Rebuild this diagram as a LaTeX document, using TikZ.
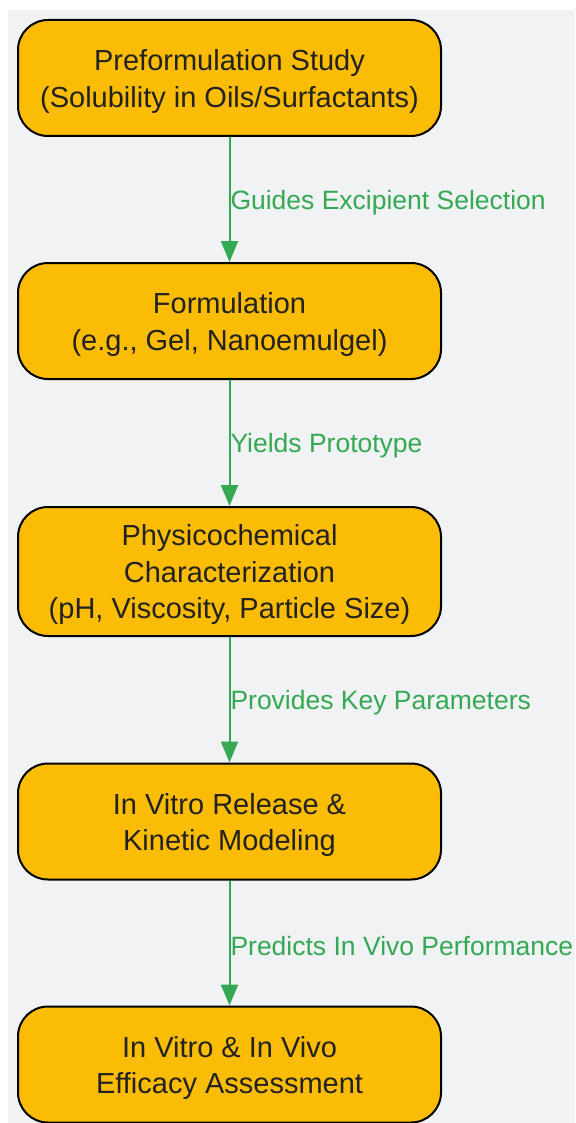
\documentclass[tikz,border=0pt]{standalone}
\usepackage{fontspec}
\setmainfont{Liberation Sans}
\usetikzlibrary{arrows.meta}

\definecolor{boxfill}{HTML}{FBBC05}
\definecolor{flowgreen}{HTML}{34A853}
\definecolor{bggray}{HTML}{F1F2F4}
\definecolor{inkdark}{HTML}{222222}

% extra room above the first line of a stage
\newcommand{\topgap}{\rule{0pt}{28pt}}

\begin{document}
\begin{tikzpicture}[x=1pt, y=-1pt,
    stage/.style={draw=black, line width=2pt, fill=boxfill, rounded corners=30pt,
        minimum width=423pt, minimum height=116pt, align=center, text=inkdark,
        inner sep=0pt, font=\fontsize{29}{36.5}\selectfont},
    flow/.style={draw=flowgreen, line width=2pt, -{Triangle[length=21pt,width=17pt]}},
    flowlabel/.style={right, text=flowgreen, inner xsep=0pt, yshift=-3pt,
        font=\fontsize{26.5}{30}\selectfont}]

    % Define page and background
    \useasboundingbox (0,0) rectangle (575,1123);
    \fill[bggray] (8,10) rectangle (575,1123);

    % Draw stages
    \node[stage] (prestudy) at (229.5,78) {\topgap Preformulation Study\\(Solubility in Oils/Surfactants)};
    \node[stage] (formul) at (229.5,321) {\topgap Formulation\\(e.g., Gel, Nanoemulgel)};
    \node[stage, minimum height=129pt] (physchar) at (229.5,571.5) {\topgap Physicochemical\\Characterization\\(pH, Viscosity, Particle Size)};
    \node[stage] (release) at (229.5,821.5) {\topgap In Vitro Release \&\\Kinetic Modeling};
    \node[stage] (efficacy) at (229.5,1064.5) {\topgap In Vitro \& In Vivo\\Efficacy Assessment};

    % Draw edges
    \foreach \from/\to/\txt in {prestudy/formul/Guides Excipient Selection,
                                formul/physchar/Yields Prototype,
                                physchar/release/Provides Key Parameters,
                                release/efficacy/Predicts In Vivo Performance} {
        \draw[flow] (\from) -- (\to) node[midway, flowlabel] {\txt};
    }
\end{tikzpicture}
\end{document}
